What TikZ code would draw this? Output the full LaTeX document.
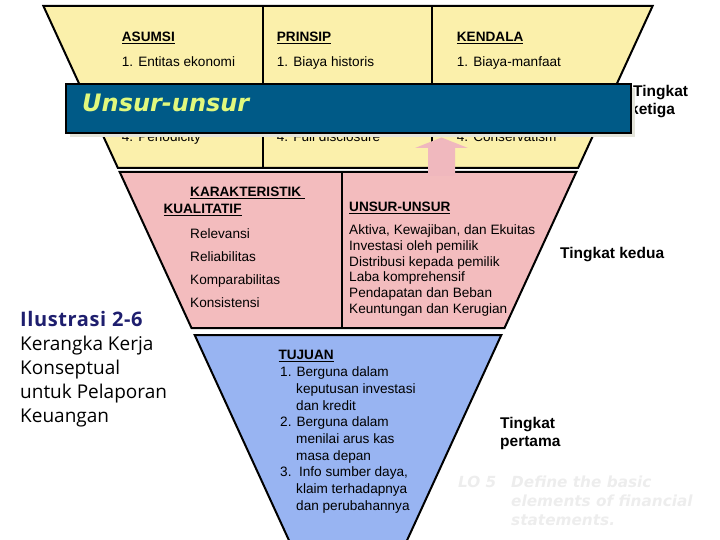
\documentclass[tikz,border=0pt]{standalone}
\usepackage{fontspec}
\setmainfont{Liberation Sans}
\newfontfamily\comicfont{Open Sans}
\newfontfamily\widefont{DejaVu Sans}
\usetikzlibrary{positioning}
\definecolor{kkYellow}{RGB}{251,240,171}
\definecolor{kkPink}{RGB}{243,188,190}
\definecolor{kkArrow}{RGB}{240,184,190}
\definecolor{kkBlue}{RGB}{152,180,242}
\definecolor{kkBanner}{RGB}{0,90,135}
\definecolor{kkLime}{RGB}{225,248,125}
\definecolor{kkNavy}{RGB}{30,30,110}
\definecolor{kkShadow}{RGB}{228,228,218}
\definecolor{kkGhost}{RGB}{237,237,237}
\newcommand{\kkhead}[1]{\textbf{\underline{#1}}}

\begin{document}
\begin{tikzpicture}[x=1pt, y=-1pt,
    level/.style={draw=black, line width=2pt, line join=miter},
    divider/.style={draw=black, line width=1.5pt},
    txt/.style={anchor=base west, inner sep=0pt, font=\fontsize{13.6}{16}\selectfont},
    tingkat/.style={anchor=base west, inner sep=0pt, font=\fontsize{15.5}{18}\selectfont\bfseries},
    comic/.style={anchor=base west, inner sep=0pt, font=\comicfont\fontsize{19}{24}\selectfont},
    ghost/.style={anchor=base west, inner sep=0pt, text=kkGhost,
                  font=\widefont\bfseries\itshape\fontsize{15.3}{18}\selectfont}
  ]
  \clip (0,0) rectangle (720,540);

  % the three levels of the funnel
  \path[level, fill=kkYellow] (43.4,6) -- (652.6,6) -- (578.1,168) -- (117.9,168) -- cycle;
  \draw[divider] (263,6) -- (263,168);
  \draw[divider] (432,6) -- (432,168);
  \path[level, fill=kkPink] (119.7,172) -- (576.3,172) -- (504.5,328) -- (191.5,328) -- cycle;
  \draw[divider] (342,172) -- (342,328);
  \path[level, fill=kkBlue] (194.7,335) -- (501.3,335) -- (398,560) -- (298,560) -- cycle;

  % third level
  \foreach \x/\h/\a/\d [count=\i] in {121.7/ASUMSI/Entitas ekonomi/Periodicity,
      276.7/PRINSIP/Biaya historis/Full disclosure, 456.7/KENDALA/Biaya-manfaat/Conservatism} {
    \node[txt] (head\i) at (\x,41.7) {\kkhead{\h}};
    \node[txt] (first\i) at (\x,66.5) {1. \a};
    \node[txt] (fourth\i) at (\x,142) {4. \d};
  }
  \node[tingkat] (t3a) at (633,96.7) {Tingkat};
  \node[tingkat] (t3b) at (630,115) {ketiga};

  % banner
  \fill[kkShadow] (70,88) rectangle (635,137);
  \node[draw=black, line width=2pt, fill=kkBanner, minimum width=565pt, minimum height=49pt,
        inner sep=0pt, anchor=north west] (banner) at (65,83) {};
  \node[anchor=base west, inner sep=0pt, text=kkLime,
        font=\widefont\bfseries\itshape\fontsize{24}{26}\selectfont]
        (bannertxt) at (82,112) {Unsur-unsur};

  % arrow from second to third level
  \fill[kkArrow] (428,176) -- (428,148) -- (415,148) -- (441.5,137.5) -- (468,148)
                 -- (455,148) -- (455,176) -- cycle;

  % second level
  \node[txt] (karak) at (190,196.5) {\kkhead{KARAKTERISTIK\ }};
  \node[txt] (kualit) at (163.3,213.3) {\kkhead{KUALITATIF}};
  \foreach \q [count=\i] in {Relevansi, Reliabilitas, Komparabilitas, Konsistensi}
    \node[txt] (kual\i) at (190,214.7+23.3*\i) {\q};
  \node[txt] (unsurhead) at (349,211.7) {\kkhead{UNSUR-UNSUR}};
  \foreach \u [count=\i] in {{Aktiva, Kewajiban, dan Ekuitas}, Investasi oleh pemilik,
      Distribusi kepada pemilik, Laba komprehensif, Pendapatan dan Beban, Keuntungan dan Kerugian}
    \node[txt] (unsur\i) at (349,219.35+15.65*\i) {\u};
  \node[tingkat] (t2) at (560,258.3) {Tingkat kedua};

  % first level
  \node[txt] (tujuan) at (278.3,359.3) {\kkhead{TUJUAN}};
  \foreach \x/\t [count=\i] in {280/1. Berguna dalam, 296/keputusan investasi, 296/dan kredit,
      280/2. Berguna dalam, 296/menilai arus kas, 296/masa depan, 280/{3.\ \ Info sumber daya,},
      296/klaim terhadapnya, 296/dan perubahannya}
    \node[txt] (tuj\i) at (\x,360+16.67*\i) {\t};
  \node[tingkat] (t1a) at (500,428.3) {Tingkat};
  \node[tingkat] (t1b) at (500,446.7) {pertama};

  % caption on the left
  \node[comic, text=kkNavy, font=\comicfont\bfseries\fontsize{20}{24}\selectfont\addfontfeature{LetterSpace=3}]
        (ilus) at (20,326.7) {Ilustrasi 2-6};
  \foreach \l [count=\i] in {Kerangka Kerja, Konseptual, untuk Pelaporan, Keuangan}
    \node[comic] (ilus\i) at (20,326.7+24*\i) {\l};

  % learning objective
  \node[ghost] (lo1) at (458,487.3) {LO 5};
  \node[ghost] (lo2) at (511,487.3) {Define the basic};
  \node[ghost] (lo3) at (511,506.7) {elements of financial};
  \node[ghost] (lo4) at (511,525) {statements.};
\end{tikzpicture}
\end{document}
